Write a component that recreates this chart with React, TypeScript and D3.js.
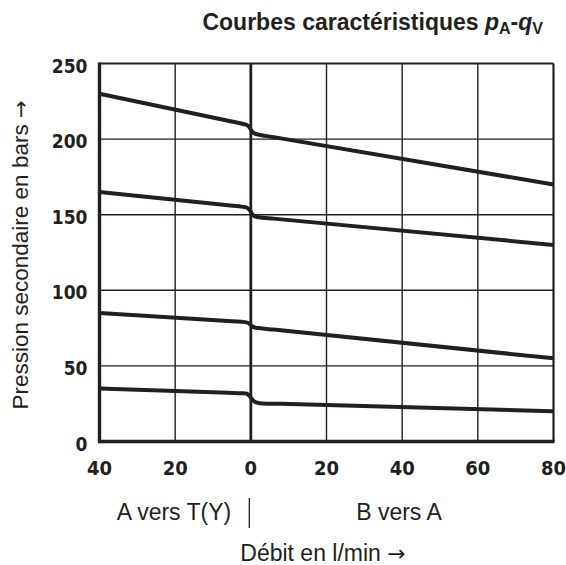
import React from "react";
import * as d3 from "d3";

const W = 566;
const H = 565;

// x: flow in l/min (negative = A vers T(Y), positive = B vers A)
const xTicks = [-40, -20, 0, 20, 40, 60, 80];
const yTicks = [0, 50, 100, 150, 200, 250];

const curve1: [number, number][] = [
  [-40, 230], [-6, 212.1], [-2, 210], [-1, 209.2], [-0.3, 207.5], [0.3, 205],
  [1, 203.7], [2, 203], [6, 201.3], [80, 170],
];
const curve2: [number, number][] = [
  [-40, 165], [-6, 156.2], [-2, 155.2], [-1, 154.6], [-0.3, 153], [0.3, 150.5],
  [1, 149], [2, 148.3], [6, 147.4], [80, 130],
];
const curve3: [number, number][] = [
  [-40, 85], [-6, 79.7], [-2.5, 79.2], [-1.2, 78.8], [-0.3, 77.8], [0.3, 76.3],
  [1, 75.4], [2, 75], [6, 74], [80, 55],
];
const curve4: [number, number][] = [
  [-40, 35], [-6, 32.2], [-2, 31.9], [-1, 31.6], [0, 29], [1, 26.3],
  [2, 25.5], [3, 25.2], [8, 24.9], [80, 20],
];
const curves = [curve1, curve2, curve3, curve4];

const tickFont = "'DejaVu Sans Condensed', 'DejaVu Sans', sans-serif";
const labelFont = "'Liberation Sans', Arial, Helvetica, sans-serif";
const arrowFont = "'DejaVu Sans', sans-serif";

export default function App() {
  const x = d3.scaleLinear().domain([-40, 80]).range([99.5, 553.5]);
  const y = d3.scaleLinear().domain([0, 250]).range([441.5, 63.5]);
  const line = d3
    .line<[number, number]>()
    .x((d) => x(d[0]))
    .y((d) => y(d[1]))
    .curve(d3.curveMonotoneX);

  const x0 = x(-40), x1 = x(80), y0 = y(0), y1 = y(250);

  return (
    <svg
      width={W}
      height={H}
      style={{ position: "absolute", left: 0, top: 0, background: "#fff" }}
    >
      <rect width={W} height={H} fill="#fff" />
      {/* grid */}
      {xTicks
        .filter((t) => t !== -40 && t !== 0 && t !== 80)
        .map((t) => (
          <line key={"gx" + t} x1={x(t)} x2={x(t)} y1={y1} y2={y0} stroke="#231f20" strokeWidth={1.4} />
        ))}
      {yTicks
        .filter((t) => t !== 0 && t !== 250)
        .map((t) => (
          <line key={"gy" + t} x1={x0} x2={x1} y1={y(t)} y2={y(t)} stroke="#231f20" strokeWidth={1.4} />
        ))}
      {/* borders */}
      <line x1={x0} x2={x1} y1={y1} y2={y1} stroke="#231f20" strokeWidth={2.2} />
      <line x1={x1} x2={x1} y1={y1} y2={y0} stroke="#231f20" strokeWidth={2.2} />
      <line x1={x(0)} x2={x(0)} y1={y1} y2={y0} stroke="#231f20" strokeWidth={2.8} />
      <line x1={x0} x2={x0} y1={y1 - 1} y2={y0 + 1.7} stroke="#231f20" strokeWidth={3.4} />
      <line x1={x0} x2={x1 + 1} y1={y0} y2={y0} stroke="#231f20" strokeWidth={3.4} />

      {/* curves */}
      {curves.map((c, i) => (
        <path key={"c" + i} d={line(c) || ""} fill="none" stroke="#231f20" strokeWidth={4} strokeLinejoin="round" />
      ))}

      {/* y tick labels */}
      {yTicks.map((t) => (
        <text
          key={"yl" + t}
          x={87.5}
          y={y(t) + 9}
          textAnchor="end"
          fontFamily={tickFont}
          fontWeight="bold"
          fontSize={19}
          fill="#231f20"
        >
          {t}
        </text>
      ))}
      {/* x tick labels */}
      {xTicks.map((t) => (
        <text
          key={"xl" + t}
          x={x(t)}
          y={475}
          textAnchor="middle"
          fontFamily={tickFont}
          fontWeight="bold"
          fontSize={20}
          fill="#231f20"
        >
          {Math.abs(t)}
        </text>
      ))}

      {/* direction labels */}
      <text x={174} y={519.5} textAnchor="middle" fontFamily={labelFont} fontSize={23} fill="#231f20">
        A vers T(Y)
      </text>
      <text x={399} y={519.5} textAnchor="middle" fontFamily={labelFont} fontSize={23} fill="#231f20">
        B vers A
      </text>
      <line x1={x(0) - 1.5} x2={x(0) - 1.5} y1={498} y2={528} stroke="#231f20" strokeWidth={1.3} />

      {/* axis titles */}
      <text x={323} y={560.5} textAnchor="middle" fontFamily={labelFont} fontSize={23} fill="#231f20">
        Débit en l/min <tspan fontFamily={arrowFont} fontSize={22}>→</tspan>
      </text>
      <text
        transform="translate(28,255) rotate(-90)"
        textAnchor="middle"
        fontFamily={labelFont}
        fontSize={22.5}
        fill="#231f20"
      >
        Pression secondaire en bars <tspan fontFamily={arrowFont} fontSize={21}>→</tspan>
      </text>

      {/* title */}
      <text x={543} y={29.5} textAnchor="end" fontFamily={labelFont} fontWeight="bold" fontSize={23} fill="#231f20">
        Courbes caractéristiques{" "}
        <tspan fontStyle="italic">p</tspan>
        <tspan fontSize={16} dy={4}>A</tspan>
        <tspan dy={-4}>-</tspan>
        <tspan fontStyle="italic">q</tspan>
        <tspan fontSize={16} dy={4}>V</tspan>
      </text>
    </svg>
  );
}
